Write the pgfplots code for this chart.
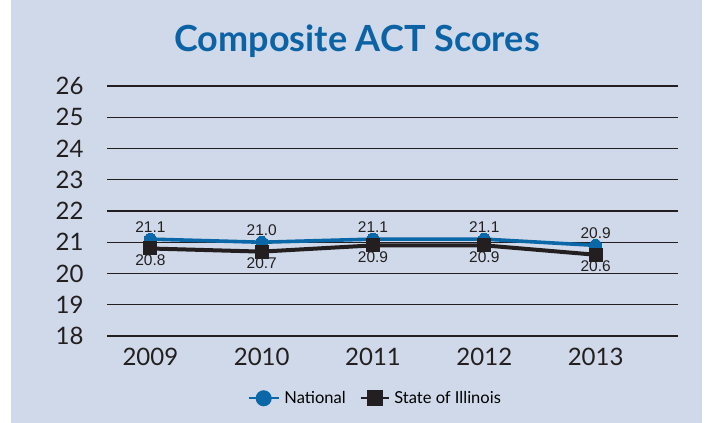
\documentclass[border=0pt]{standalone}
\usepackage{pgfplots}
\pgfplotsset{compat=1.18}
\usepackage{fontspec}
\setmainfont{Lato}
\newfontfamily\helv{Liberation Sans}
\definecolor{bgc}{HTML}{CFD9E9}
\definecolor{natblue}{HTML}{0A67A8}
\definecolor{ilblack}{HTML}{231F20}
\definecolor{titleblue}{HTML}{0B63A5}
\begin{document}
\begin{tikzpicture}[x=1pt,y=1pt]
\fill[white] (0,0) rectangle (705,423);
\fill[bgc] (11,0) rectangle (702,423);
\node[font=\fontsize{36}{42}\selectfont\bfseries, text=titleblue] at (357,382) {Composite ACT Scores};
\begin{axis}[
  at={(107pt,87pt)}, anchor=south west,
  scale only axis, width=571pt, height=250pt,
  xmin=-0.39, xmax=4.74, ymin=18, ymax=26,
  xtick=data, xticklabels={2009,2010,2011,2012,2013},
  ytick={18,19,...,26},
  axis line style={draw=none},
  major tick length=0pt,
  ymajorgrids, grid style={ilblack, line width=1.1pt},
  tick label style={font=\fontsize{24}{28}\selectfont, text=ilblack},
  /pgf/number format/assume math mode=true,
  yticklabel style={xshift=-20pt},
  xticklabel style={yshift=-9pt},
  legend style={draw=none, fill=none, at={(0.47,-0.205)}, anchor=north,
    font=\fontsize{16.5}{19}\selectfont, legend columns=2,
    /tikz/every odd column/.append style={column sep=3pt},
    /tikz/every even column/.append style={column sep=12pt}},
  legend cell align=left,
  nodes near coords={\pgfmathprintnumber[fixed,fixed zerofill,precision=1]{\pgfplotspointmeta}},
  every node near coord/.append style={font=\helv\fontsize{15.5}{18}\selectfont, text=ilblack},
]
\addplot[natblue, line width=3.6pt, mark=*, mark size=6pt, mark options={line width=0pt},
  nodes near coords align={above}, every node near coord/.append style={yshift=3pt},
  legend image code/.code={\draw[natblue, line width=1.6pt] (0pt,0pt) -- (30pt,0pt);
    \fill[natblue] (15pt,0pt) circle (6.2pt);}]
  coordinates {(0,21.1) (1,21.0) (2,21.1) (3,21.1) (4,20.9)};
\addlegendentry{National}
\addplot[ilblack, line width=4pt, mark=square*, mark size=6.5pt, mark options={line width=0pt},
  nodes near coords align={below}, every node near coord/.append style={yshift=-3pt},
  legend image code/.code={\draw[ilblack, line width=1.6pt] (0pt,0pt) -- (28pt,0pt);
    \fill[ilblack] (8pt,-6pt) rectangle (20pt,6pt);}]
  coordinates {(0,20.8) (1,20.7) (2,20.9) (3,20.9) (4,20.6)};
\addlegendentry{State of Illinois}
\end{axis}
\end{tikzpicture}
\end{document}
